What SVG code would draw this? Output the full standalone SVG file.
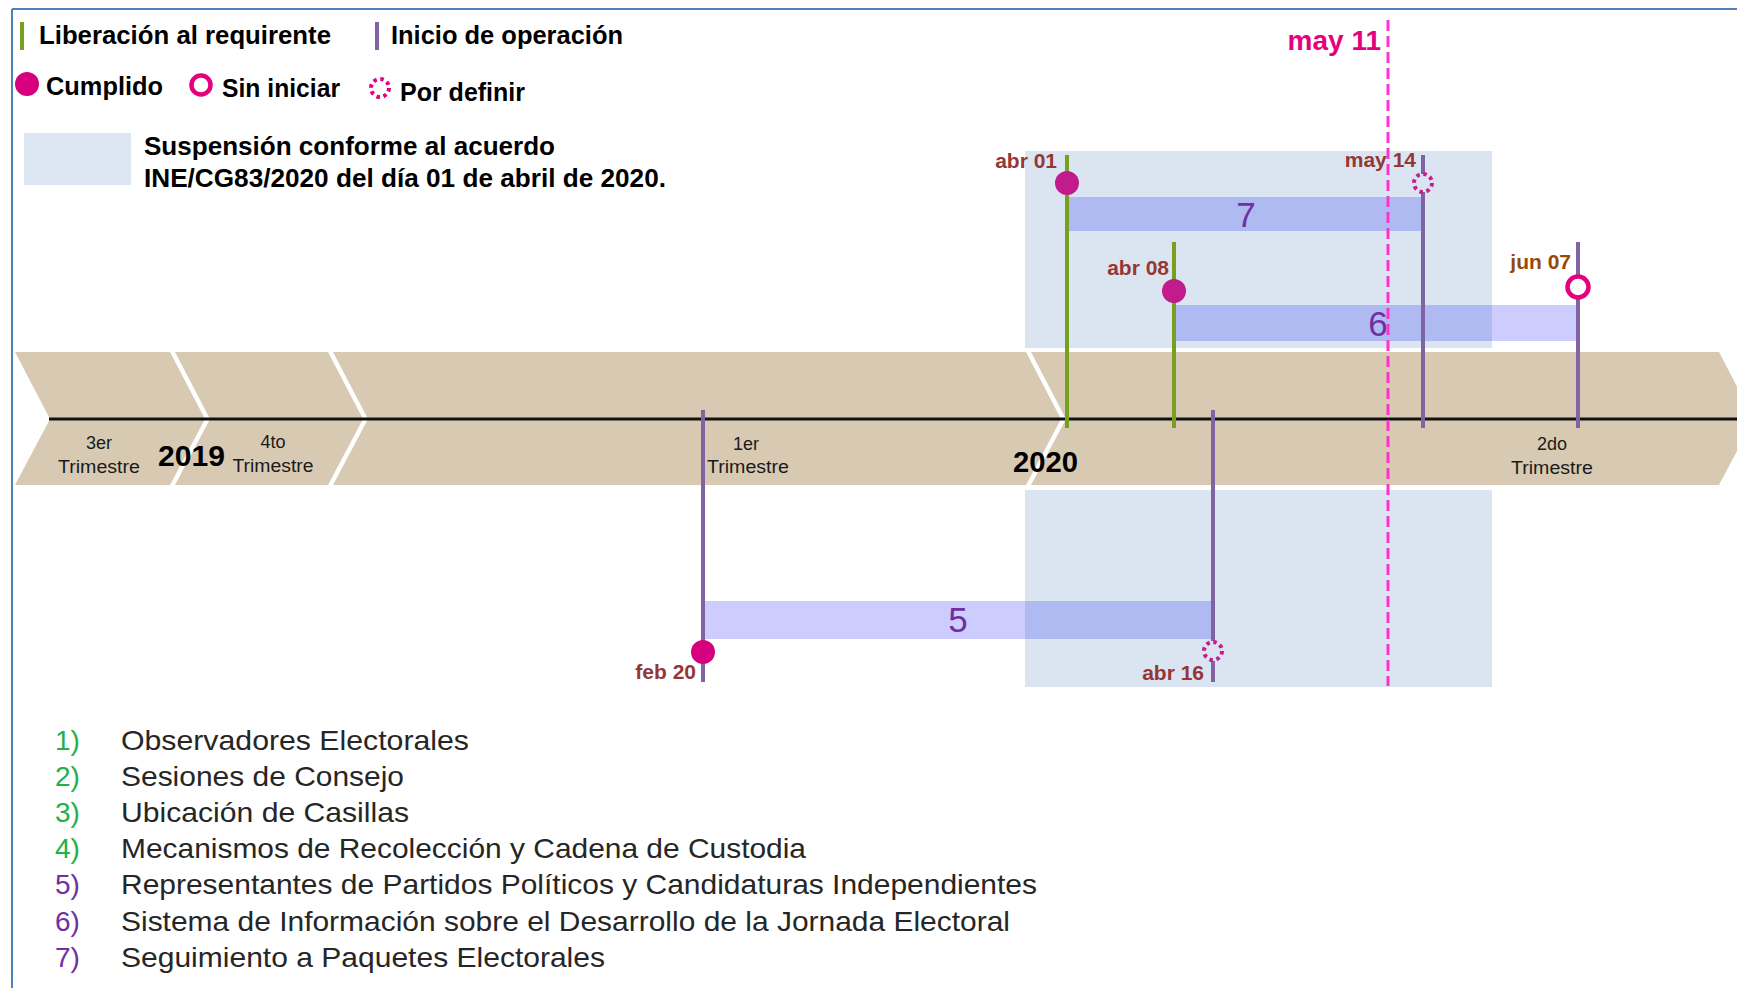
<svg xmlns="http://www.w3.org/2000/svg" width="1737" height="988" viewBox="0 0 1737 988">
<style>
.lg{font-family:"Liberation Sans",Arial,sans-serif;font-weight:bold;font-size:25px;fill:#000}
.bt{font-family:"Liberation Sans",Arial,sans-serif;font-size:18px;fill:#1a1a1a;text-anchor:middle}
.yr{font-family:"Liberation Sans",Arial,sans-serif;font-weight:bold;font-size:29px;fill:#000}
.dl{font-family:"Liberation Sans",Arial,sans-serif;font-weight:bold;font-size:21px;fill:#953735;text-anchor:end}
.num{font-family:"Liberation Sans",Arial,sans-serif;font-size:35px;fill:#7030A0;text-anchor:middle}
.li{font-family:"Liberation Sans",Arial,sans-serif;font-size:28px;fill:#262626}
.ng{font-family:"Liberation Sans",Arial,sans-serif;font-size:28px;fill:#22B04B}
.np{font-family:"Liberation Sans",Arial,sans-serif;font-size:28px;fill:#7030A0}
.chev{fill:#D8CAB2}
.bar{fill:#CCCCFF}
.susp{fill:#1F5FAF;fill-opacity:0.16}
.gl{stroke:#76A01E;stroke-width:4;fill:none}
.pl{stroke:#8064A2;stroke-width:4;fill:none}
.done{fill:#C21B8C}
.open{fill:none;stroke:#E6007E;stroke-width:4.5}
.tbd{fill:none;stroke:#C81E8C;stroke-width:4;stroke-dasharray:3.5 3.57}
</style>
<rect width="1737" height="988" fill="#fff"/>
<g id="frame" fill="none" stroke="#4F81BD" stroke-width="2">
<path d="M12 9H1737M12 9V988"/>
</g>
<g id="legend">
<rect x="20" y="22" width="4" height="28" fill="#76A01E"/>
<text class="lg" x="39" y="44" textLength="292" lengthAdjust="spacingAndGlyphs">Liberación  al  requirente</text>
<rect x="375" y="22" width="4" height="28" fill="#8064A2"/>
<text class="lg" x="391" y="44" textLength="232" lengthAdjust="spacingAndGlyphs">Inicio  de  operación</text>
<circle cx="27" cy="84" r="12" fill="#D6007F"/>
<text class="lg" x="46" y="95" textLength="117" lengthAdjust="spacingAndGlyphs">Cumplido</text>
<circle cx="201" cy="85" r="9.5" class="open"/>
<text class="lg" x="222" y="97" textLength="118" lengthAdjust="spacingAndGlyphs">Sin iniciar</text>
<circle cx="380" cy="88" r="9" class="tbd" style="stroke:#E6007E"/>
<text class="lg" x="400" y="101" textLength="125" lengthAdjust="spacingAndGlyphs">Por definir</text>
<rect x="24" y="133" width="107" height="52" fill="#DCE6F2"/>
<text class="lg" x="144" y="155" textLength="411" lengthAdjust="spacingAndGlyphs">Suspensión  conforme  al  acuerdo</text>
<text class="lg" x="144" y="187" textLength="522" lengthAdjust="spacingAndGlyphs">INE/CG83/2020  del  día  01  de  abril  de  2020.</text>
</g>
<g id="timeline">
<polygon class="chev" points="15,352 170,352 205,419 170,485 15,485 50,419"/>
<polygon class="chev" points="175,352 328,352 363,419 328,485 175,485 210,419"/>
<polygon class="chev" points="333,352 1026,352 1061,419 1026,485 333,485 368,419"/>
<polygon class="chev" points="1031,352 1719,352 1754,419 1719,485 1031,485 1066,419"/>
<line x1="49" y1="419" x2="1737" y2="419" stroke="#111" stroke-width="3"/>
<text class="bt" x="99" y="449">3er</text>
<text class="bt" x="99" y="473" textLength="82" lengthAdjust="spacingAndGlyphs">Trimestre</text>
<text class="yr" x="158" y="466" textLength="67" lengthAdjust="spacingAndGlyphs">2019</text>
<text class="bt" x="273" y="448">4to</text>
<text class="bt" x="273" y="472" textLength="81" lengthAdjust="spacingAndGlyphs">Trimestre</text>
<text class="bt" x="746" y="450">1er</text>
<text class="bt" x="748" y="473" textLength="82" lengthAdjust="spacingAndGlyphs">Trimestre</text>
<text class="yr" x="1013" y="472" textLength="65" lengthAdjust="spacingAndGlyphs">2020</text>
<text class="bt" x="1552" y="450">2do</text>
<text class="bt" x="1552" y="474" textLength="82" lengthAdjust="spacingAndGlyphs">Trimestre</text>
</g>
<g id="bars">
<rect id="bar7" class="bar" x="1069" y="197" width="353" height="34"/>
<rect id="bar6" class="bar" x="1176" y="305" width="400" height="36"/>
<rect id="bar5" class="bar" x="703" y="601" width="511" height="38"/>
</g>
<g id="suspension">
<rect class="susp" x="1025" y="151" width="467" height="197"/>
<rect class="susp" x="1025" y="490" width="467" height="197"/>
</g>
<g id="connectors">
<line class="gl" x1="1067" y1="155" x2="1067" y2="428"/>
<line class="gl" x1="1174" y1="242" x2="1174" y2="428"/>
<line class="pl" x1="1423" y1="155" x2="1423" y2="174"/>
<line class="pl" x1="1423" y1="192" x2="1423" y2="428"/>
<line class="pl" x1="1578" y1="242" x2="1578" y2="276"/>
<line class="pl" x1="1578" y1="298" x2="1578" y2="428"/>
<line class="pl" x1="703" y1="410" x2="703" y2="682"/>
<line class="pl" x1="1213" y1="410" x2="1213" y2="641"/>
<line class="pl" x1="1213" y1="661" x2="1213" y2="682"/>
</g>
<g id="m-abr01">
<circle class="done" cx="1067" cy="183" r="12"/>
<text class="dl" x="1057" y="168">abr 01</text>
</g>
<g id="m-may14">
<circle class="tbd" cx="1423" cy="183" r="9"/>
<text class="dl" x="1416" y="167">may 14</text>
</g>
<g id="m-abr08">
<circle class="done" cx="1174" cy="291" r="12"/>
<text class="dl" x="1169" y="275">abr 08</text>
</g>
<g id="m-jun07">
<circle class="open" cx="1578" cy="287" r="10.5"/>
<text class="dl" x="1571" y="269" style="fill:#984807">jun 07</text>
</g>
<g id="m-feb20">
<circle cx="703" cy="652" r="12" fill="#D6007F"/>
<text class="dl" x="696" y="679">feb 20</text>
</g>
<g id="m-abr16">
<circle class="tbd" cx="1213" cy="651" r="9"/>
<text class="dl" x="1204" y="680">abr 16</text>
</g>
<g id="bar-labels">
<text class="num" x="1246" y="227">7</text>
<text class="num" x="1378" y="336">6</text>
<text class="num" x="958" y="632">5</text>
</g>
<g id="m-may11">
<line x1="1388" y1="20" x2="1388" y2="686" stroke="#FF33CC" stroke-width="3" stroke-dasharray="11 5"/>
<text x="1381" y="50" text-anchor="end" font-family="Liberation Sans, Arial, sans-serif" font-weight="bold" font-size="28" fill="#E6007E">may  11</text>
</g>
<g id="list">
<text class="ng" x="55" y="750">1)</text>
<text class="li" x="121" y="750" textLength="348" lengthAdjust="spacingAndGlyphs">Observadores  Electorales</text>
<text class="ng" x="55" y="786">2)</text>
<text class="li" x="121" y="786" textLength="283" lengthAdjust="spacingAndGlyphs">Sesiones de Consejo</text>
<text class="ng" x="55" y="822">3)</text>
<text class="li" x="121" y="822" textLength="288" lengthAdjust="spacingAndGlyphs">Ubicación de Casillas</text>
<text class="ng" x="55" y="858">4)</text>
<text class="li" x="121" y="858" textLength="685" lengthAdjust="spacingAndGlyphs">Mecanismos de Recolección y Cadena de Custodia</text>
<text class="np" x="55" y="894">5)</text>
<text class="li" x="121" y="894" textLength="916" lengthAdjust="spacingAndGlyphs">Representantes de Partidos Políticos y Candidaturas Independientes</text>
<text class="np" x="55" y="931">6)</text>
<text class="li" x="121" y="931" textLength="889" lengthAdjust="spacingAndGlyphs">Sistema de Información sobre el Desarrollo de la Jornada Electoral</text>
<text class="np" x="55" y="967">7)</text>
<text class="li" x="121" y="967" textLength="484" lengthAdjust="spacingAndGlyphs">Seguimiento a Paquetes Electorales</text>
</g>
</svg>
